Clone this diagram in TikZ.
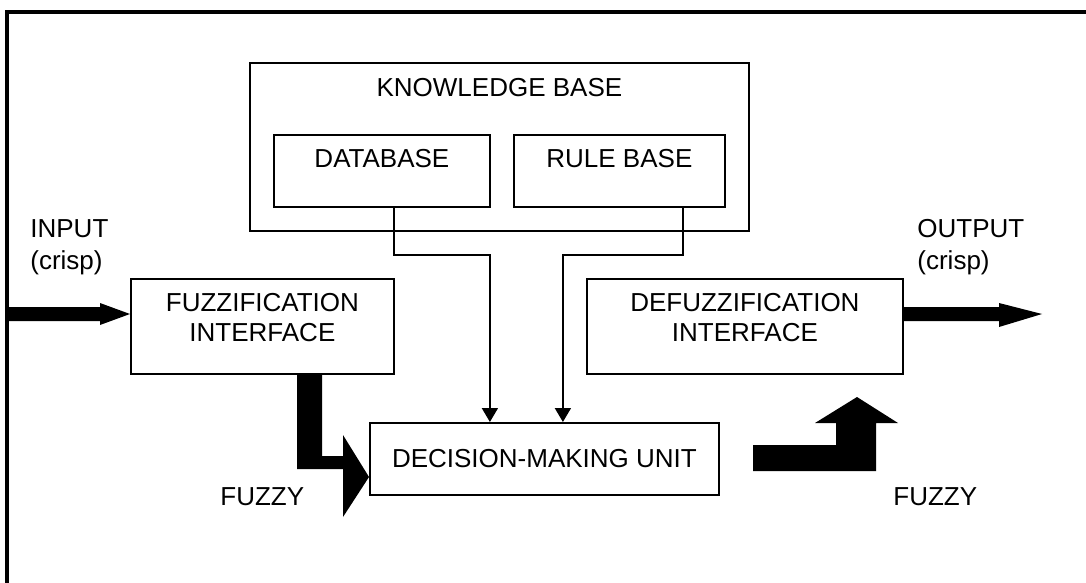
\documentclass[tikz,border=0pt]{standalone}
\usepackage{fontspec}
\setmainfont{Liberation Sans}
\usetikzlibrary{calc,arrows.meta}
\begin{document}
\begin{tikzpicture}[x=0.5pt,y=-0.5pt,
  box/.style={draw,line width=0.9pt,inner sep=0pt,anchor=north west},
  txt/.style={font=\fontsize{13}{16}\selectfont,inner sep=0pt,align=center},
  lbl/.style={font=\fontsize{13}{16}\selectfont,inner sep=0pt,align=left,anchor=west},
  link/.style={line width=0.9pt,-{Triangle[length=7pt,width=8pt]}},
  block/.style={fill=black,draw=none}]
\useasboundingbox (0,0) rectangle (1086,583);
% outer frame (top and left edges)
\draw[line width=1.6pt] (7,583) -- (7,12) -- (1086,12);

% knowledge base with its two parts
\node[box,minimum width=249.5pt,minimum height=84pt] (kb) at (249,62) {};
\node[txt] (kbt) at ($(kb.north)+(0,26)$) {KNOWLEDGE BASE};
\node[box,minimum width=108pt,minimum height=36pt] (db) at (273,134) {};
\node[txt] (dbt) at ($(db.north)+(0,25)$) {DATABASE};
\node[box,minimum width=105.5pt,minimum height=36pt] (rb) at (513,134) {};
\node[txt] (rbt) at ($(rb.north)+(0,25)$) {RULE BASE};

% interfaces and decision unit
\node[box,minimum width=131.5pt,minimum height=47.5pt] (fz) at (130,278) {};
\node[txt] (fzt) at ($(fz.north)+(0,40)$) {FUZZIFICATION\\[-1pt]INTERFACE};
\node[box,minimum width=158pt,minimum height=47.5pt] (dfz) at (586,278) {};
\node[txt] (dfzt) at ($(dfz.north)+(0,40)$) {DEFUZZIFICATION\\[-1pt]INTERFACE};
\node[box,minimum width=174.5pt,minimum height=36pt] (dmu) at (369,422) {};
\node[txt] (dmut) at (dmu.center) {DECISION-MAKING UNIT};

% side labels
\node[lbl] (in) at (30,247) {INPUT\\(crisp)};
\node[lbl] (out) at (917,247) {OUTPUT\\(crisp)};
\node[lbl] (fzl) at (220,497) {FUZZY};
\node[lbl] (fzr) at (893,497) {FUZZY};

% knowledge base links into the decision unit
\draw[link] ($(db.south)+(12,0)$) -- ++(0,47) -| ($(dmu.north)+(-54.5,0)$);
\draw[link] ($(rb.south)+(63.5,0)$) -- ++(0,47) -| ($(dmu.north)+(18.5,0)$);

% crisp input and output arrows
\fill[block] (7,307) -- (100,307) -- (100,303) -- (130,314) -- (100,325) -- (100,321) -- (7,321) -- cycle;
\fill[block] (902,307) -- (999,307) -- (999,303) -- (1042,314) -- (999,327) -- (999,321) -- (902,321) -- cycle;

% fuzzy block arrows
\fill[block] (297,373) -- (322,373) -- (322,456) -- (343,456) -- (343,435) -- (369,477)
  -- (343,517) -- (343,469) -- (297,469) -- cycle;
\fill[block] (753,445) -- (836,445) -- (836,423) -- (815,423) -- (857,397) -- (898,423)
  -- (876,423) -- (876,471) -- (753,471) -- cycle;
\end{tikzpicture}
\end{document}
